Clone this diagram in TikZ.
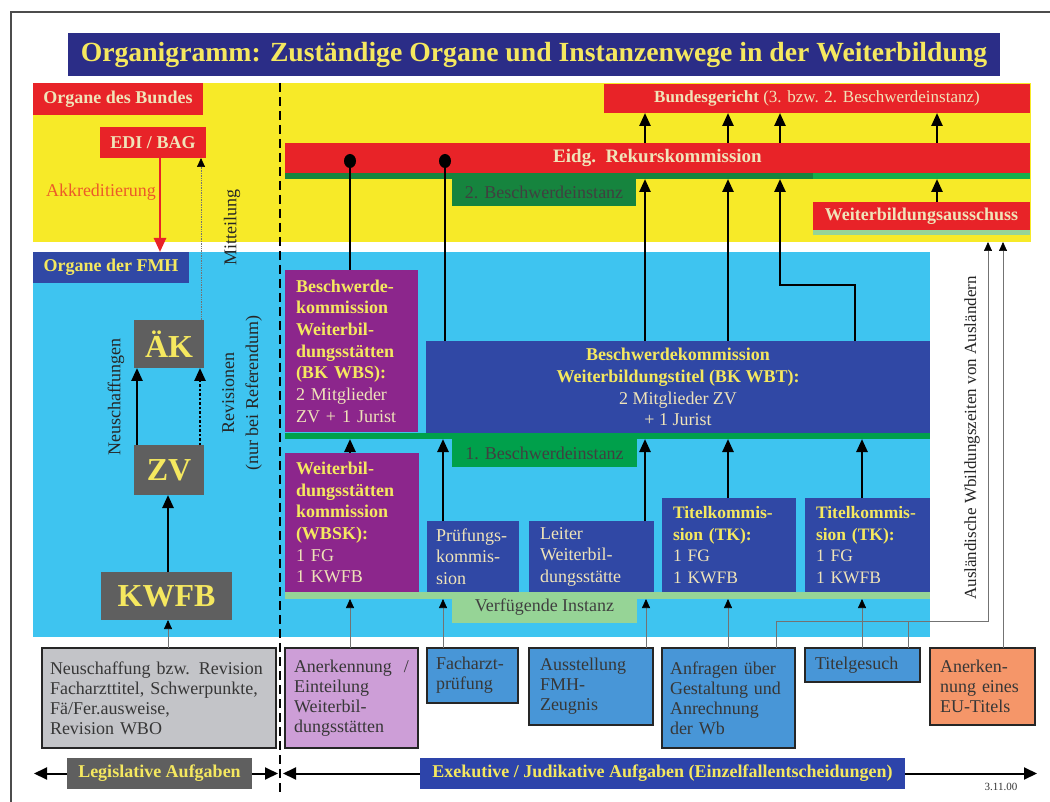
\documentclass[tikz,border=0pt]{standalone}
\usepackage{fontspec}
\setmainfont{Liberation Serif}
\usetikzlibrary{arrows.meta,calc}
\definecolor{ybg}{RGB}{247,234,40}
\definecolor{cbg}{RGB}{62,196,240}
\definecolor{rbox}{RGB}{232,35,40}
\definecolor{navy}{RGB}{43,45,135}
\definecolor{dblue}{RGB}{48,72,165}
\definecolor{purp}{RGB}{140,38,140}
\definecolor{gbox}{RGB}{95,95,95}
\definecolor{dgreen}{RGB}{22,132,62}
\definecolor{bgreen}{RGB}{20,175,75}
\definecolor{mgreen}{RGB}{0,160,75}
\definecolor{lgreen}{RGB}{150,212,150}
\definecolor{txty}{RGB}{245,232,95}
\definecolor{txtc}{RGB}{240,228,185}
\definecolor{btblue}{RGB}{72,150,215}
\definecolor{bpink}{RGB}{205,158,215}
\definecolor{orng}{RGB}{245,150,105}
\definecolor{lgray}{RGB}{195,196,200}
\definecolor{dtext}{RGB}{55,55,55}
\definecolor{akk}{RGB}{236,90,40}
\definecolor{exblue}{RGB}{45,68,170}
\newcommand\fsz[2]{\fontsize{#1}{#2}\selectfont}
\newcommand\hl[1]{{\color{txty}\textbf{#1}}}
\begin{document}
\begin{tikzpicture}[x=1pt,y=-1pt,
  box/.style={inner sep=0pt, outer sep=0pt, anchor=north west, align=center, text=txtc, font=\fsz{18}{21.7}},
  btm/.style={box, draw=black!85, line width=2.5pt, text=dtext, align=left, font=\fsz{18}{20}},
  thk/.style={line width=2.5pt, -{Triangle[length=13pt,width=11pt]}},
  thinl/.style={line width=0.7pt, draw=black!55},
  thinarr/.style={thinl, -{Triangle[length=9pt,width=8pt,color=black]}},
  rot/.style={rotate=90, align=center, text=black!85, font=\fsz{18}{24}, inner sep=0pt}
]
\useasboundingbox (0,0) rectangle (1050,802);
\fill[white] (0,0) rectangle (1050,802);
\draw[line width=1.2pt, black!70] (11,802) -- (11,12) -- (1050,12);

% title
\node[box, fill=navy, minimum width=932, minimum height=43, text=txty, font=\fsz{27.7}{30}\bfseries] (title) at (68,33)
  {Organigramm: Zuständige Organe und Instanzenwege in der Weiterbildung};

% backgrounds
\node[box, fill=ybg, minimum width=998, minimum height=159] (yel) at (33,83) {};
\node[box, fill=cbg, minimum width=897, minimum height=385] (cyan) at (33,252) {};

% left column
\node[box, fill=rbox, minimum width=170, minimum height=32, font=\fsz{18}{20}\bfseries] (bund) at (33,83) {Organe des Bundes};
\node[box, fill=rbox, minimum width=106, minimum height=31, font=\fsz{18}{20}\bfseries] (edi) at (100,127) {EDI / BAG};
\node[text=akk, font=\fsz{18}{20}, inner sep=0pt] (akkr) at (101,192) {Akkreditierung};
\node[box, fill=dblue, minimum width=156, minimum height=31, text=txty, font=\fsz{18}{20}\bfseries] (fmhlbl) at (33,252) {Organe der FMH};
\node[box, fill=gbox, minimum width=70, minimum height=48, text=txty, font=\fsz{32}{34}\bfseries] (ak) at (134,320) {ÄK};
\node[box, fill=gbox, minimum width=70, minimum height=50, text=txty, font=\fsz{32}{34}\bfseries] (zv) at (134,445) {ZV};
\node[box, fill=gbox, minimum width=131, minimum height=48, text=txty, font=\fsz{32}{34}\bfseries] (kwfb) at (101,572) {KWFB};

\node[rot] (mitt) at (232,228) {Mitteilung};
\node[rot] (neusch) at (116,397) {Neuschaffungen};
\node[rot] (revis) at (242,393) {Revisionen\\(nur bei Referendum)};

\draw[line width=2.5pt, rbox, -{Triangle[length=14pt,width=12pt]}] (edi.south -| 160,0) -- (fmhlbl.north -| 160,0);
\draw[thinl, densely dotted, -{Triangle[length=9pt,width=8pt,color=black]}] (ak.north -| 201,0) -- (edi.south -| 201,0);
\draw[thk] (kwfb.north -| 168,0) -- (zv.south -| 168,0);
\draw[thk] (zv.north -| 137,0) -- (ak.south -| 137,0);
\draw[thk, dash pattern=on 2.5pt off 2pt] (zv.north -| 200,0) -- (ak.south -| 200,0);

% divider
\draw[line width=2pt, dash pattern=on 9pt off 5pt] (280,83) -- (280,792);

% federal courts
\node[box, fill=rbox, minimum width=426, minimum height=29, font=\fsz{17}{20}] (bger) at (604,84) {\textbf{Bundesgericht} (3. bzw. 2. Beschwerdeinstanz)};
\node[box, fill=rbox, minimum width=745, minimum height=30, font=\fsz{19}{20}\bfseries] (rek) at (285,143) {Eidg.~~Rekurskommission};
\node[box, fill=dgreen, minimum width=745, minimum height=6] (rekstripe) at (285,173) {};
\fill[bgreen] (813,173) rectangle (1030,179);
\node[box, fill=dgreen, minimum width=184, minimum height=27, text=black!75, font=\fsz{18}{20}] (b2) at (452,179) {2. Beschwerdeinstanz};
\node[box, fill=rbox, minimum width=217, minimum height=28, font=\fsz{18}{20}\bfseries] (wa) at (813,202) {Weiterbildungsausschuss};
\node[box, fill=lgreen, minimum width=217, minimum height=5] (wastripe) at (813,230) {};

\coordinate (d1) at (350,161);
\coordinate (d2) at (445,161);
\coordinate (bend) at (855,285);

% FMH commissions
\node[box, fill=purp, minimum width=133, minimum height=162, text width=111, align=left] (bkwbs) at (285,270)
  {\hl{Beschwerde-}\\\hl{kommission}\\\hl{Weiterbil-}\\\hl{dungsstätten}\\\hl{(BK WBS):}\\2 Mitglieder\\ZV + 1 Jurist};
\node[box, fill=dblue, minimum width=504, minimum height=92] (bkwbt) at (426,341)
  {\hl{Beschwerdekommission}\\\hl{Weiterbildungstitel (BK WBT):}\\2 Mitglieder ZV\\+ 1 Jurist};
\node[box, fill=mgreen, minimum width=645, minimum height=6] (gr1) at (285,433) {};
\node[box, fill=mgreen, minimum width=185, minimum height=28, text=black!75, font=\fsz{18}{20}] (b1) at (452,439) {1. Beschwerdeinstanz};

\node[box, fill=purp, minimum width=134, minimum height=139, text width=112, align=left] (wbsk) at (285,453)
  {\hl{Weiterbil-}\\\hl{dungsstätten}\\\hl{kommission}\\\hl{(WBSK):}\\1 FG\\1 KWFB};
\node[box, fill=dblue, minimum width=92, minimum height=71, text width=74, align=left, font=\fsz{18}{21.5}] (pruef) at (427,521)
  {Prüfungs-\\kommis-\\sion};
\node[box, fill=dblue, minimum width=125, minimum height=71, text width=103, align=left, font=\fsz{18}{21.5}] (leiter) at (529,521)
  {Leiter\\Weiterbil-\\dungsstätte};
\node[box, fill=dblue, minimum width=134, minimum height=94, text width=112, align=left, font=\fsz{17.5}{21.7}] (tk1) at (662,498)
  {\hl{Titelkommis-}\\\hl{sion (TK):}\\1 FG\\1 KWFB};
\node[box, fill=dblue, minimum width=125, minimum height=94, text width=103, align=left, font=\fsz{17.5}{21.7}] (tk2) at (805,498)
  {\hl{Titelkommis-}\\\hl{sion (TK):}\\1 FG\\1 KWFB};
\node[box, fill=lgreen, minimum width=645, minimum height=7] (lg) at (285,592) {};
\node[box, fill=lgreen, minimum width=185, minimum height=31, text=black!75, font=\fsz{18}{20}] (vi) at (452,592) {Verfügende Instanz};

% connectors upper
\fill (d1) ellipse [x radius=6pt, y radius=7pt];
\fill (d2) ellipse [x radius=6pt, y radius=7pt];
\draw[line width=2.5pt] (d1) -- (bkwbs.north -| d1);
\draw[line width=2.5pt] (d2) -- (bkwbt.north -| d2);
\foreach \xx in {645,728,780,937} \draw[thk] (rek.north -| \xx,0) -- (bger.south -| \xx,0);
\draw[thk] (bkwbt.north -| 645,0) -- (rekstripe.south -| 645,0);
\draw[thk] (bkwbt.north -| 728,0) -- (rekstripe.south -| 728,0);
\draw[thk] (bkwbt.north -| bend) -- (bend) -| (rekstripe.south -| 780,0);
\draw[thk] (wa.north -| 937,0) -- (rekstripe.south -| 937,0);

\draw[thk] (wbsk.north -| 350,0) -- (gr1.south -| 350,0);
\draw[thk] (pruef.north -| 443,0) -- (gr1.south -| 443,0);
\draw[thk] (leiter.north -| 645,0) -- (gr1.south -| 645,0);
\draw[thk] (tk1.north -| 728,0) -- (gr1.south -| 728,0);
\draw[thk] (tk2.north -| 862,0) -- (gr1.south -| 862,0);

% bottom tasks
\node[btm, fill=lgray, minimum width=234, minimum height=100, text width=218] (neu) at (42,648)
  {Neuschaffung bzw. Revision\\Facharzttitel, Schwerpunkte,\\Fä/Fer.ausweise,\\Revision WBO};
\node[btm, fill=bpink, minimum width=133, minimum height=100, text width=115] (anerk) at (285,648)
  {Anerkennung~~/\\Einteilung\\Weiterbil-\\dungsstätten};
\node[btm, fill=btblue, minimum width=91, minimum height=55, text width=73] (fach) at (427,648)
  {Facharzt-\\prüfung};
\node[btm, fill=btblue, minimum width=124, minimum height=77, text width=102] (ausst) at (529,648)
  {Ausstellung\\FMH-\\Zeugnis};
\node[btm, fill=btblue, minimum width=133, minimum height=100, text width=117] (anfr) at (662,648)
  {Anfragen über\\Gestaltung und\\Anrechnung\\der Wb};
\node[btm, fill=btblue, minimum width=115, minimum height=34, text width=95] (titelg) at (805,648)
  {Titelgesuch};
\node[btm, fill=orng, minimum width=105, minimum height=77, text width=85] (eu) at (930,648)
  {Anerken-\\nung eines\\EU-Titels};

\draw[thinarr] (neu.north -| 168,0) -- (kwfb.south -| 168,0);
\draw[thinarr] (anerk.north -| 350,0) -- (lg.south -| 350,0);
\draw[thinarr] (fach.north -| 443,0) -- (lg.south -| 443,0);
\draw[thinarr] (ausst.north -| 646,0) -- (lg.south -| 646,0);
\draw[thinarr] (anfr.north -| 728,0) -- (lg.south -| 728,0);
\draw[thinarr] (titelg.north -| 862,0) -- (lg.south -| 862,0);
\coordinate (hz) at (776,621);
\draw[thinarr] (anfr.north -| hz) -- (hz) -| (yel.south -| 988,0);
\draw[thinl] (titelg.north -| 908,0) -- (hz -| 908,0);
\draw[thinarr] (eu.north -| 1003,0) -- (yel.south -| 1003,0);
\node[rot, font=\fsz{17}{20}] (ausl) at (972,438) {Ausländische Wbildungszeiten von Ausländern};

% bottom axis
\node[box, fill=gbox, minimum width=185, minimum height=31, text=txty, font=\fsz{18}{20}\bfseries] (legis) at (67,758) {Legislative Aufgaben};
\node[box, fill=exblue, minimum width=485, minimum height=31, text=txty, font=\fsz{18}{20}\bfseries] (exek) at (420,758) {Exekutive / Judikative Aufgaben (Einzelfallentscheidungen)};
\coordinate (la) at (34,773.5);
\coordinate (lb) at (278,773.5);
\coordinate (ra) at (283,773.5);
\coordinate (rb) at (1037,773.5);
\draw[line width=2pt, -{Triangle[length=13pt,width=12pt]}] (legis.west) -- (la);
\draw[line width=2pt, -{Triangle[length=13pt,width=12pt]}] (legis.east) -- (lb);
\draw[line width=2pt, -{Triangle[length=13pt,width=12pt]}] (exek.west) -- (ra);
\draw[line width=2pt, -{Triangle[length=13pt,width=12pt]}] (exek.east) -- (rb);
\node[text=black!80, font=\fsz{11}{12}, inner sep=0pt] (date) at (1001,787) {3.11.00};
\end{tikzpicture}
\end{document}
